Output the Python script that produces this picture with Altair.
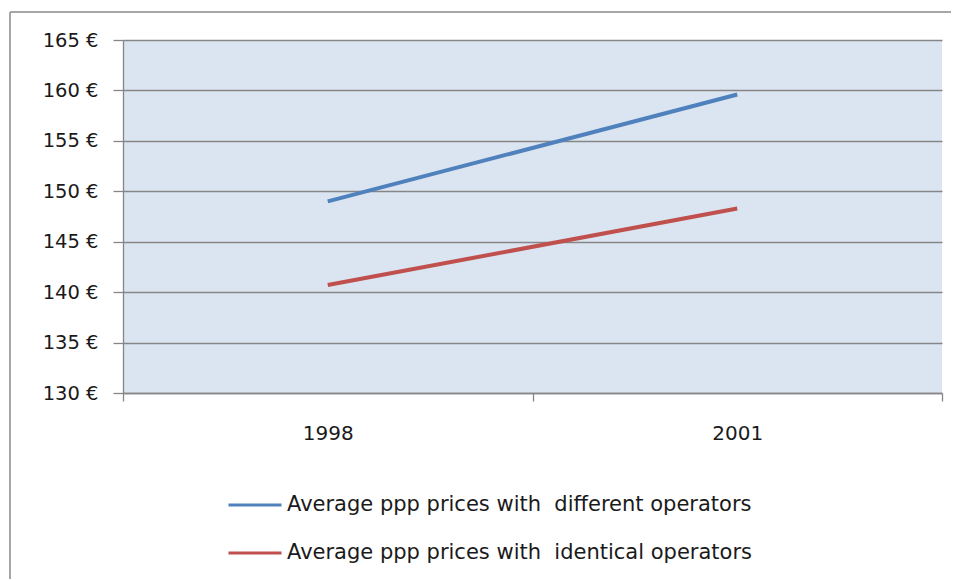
import altair as alt
import pandas as pd

years = ["1998", "2001"]
series_names = [
    "Average ppp prices with\u00a0 different operators",
    "Average ppp prices with\u00a0 identical operators",
]
different_ops = [149.0, 159.6]
identical_ops = [140.7, 148.3]
y_ticks = [130, 135, 140, 145, 150, 155, 160, 165]
colors = ["#4f81bd", "#c0504d"]

rows = []
for i, yr in enumerate(years):
    rows.append({"year": yr, "series": series_names[0], "price": different_ops[i]})
    rows.append({"year": yr, "series": series_names[1], "price": identical_ops[i]})
df = pd.DataFrame(rows)

FONT = "DejaVu Sans"

line = alt.Chart(df).mark_line(strokeWidth=4, clip=False).encode(
    x=alt.X(
        "year:N",
        bandPosition=0.5,
        scale=alt.Scale(type="band", paddingInner=0, paddingOuter=0),
        axis=alt.Axis(
            title=None, labelAngle=0, tickBand="extent", grid=False,
            domainColor="#868686", tickColor="#868686", tickSize=8,
            domainWidth=1.3, tickWidth=1.3,
            labelFontSize=20, labelColor="#1a1a1a", labelPadding=22,
            labelFont=FONT,
        ),
    ),
    y=alt.Y(
        "price:Q",
        scale=alt.Scale(domain=[130, 165], nice=False, zero=False),
        axis=alt.Axis(
            title=None, values=y_ticks, labelExpr="datum.value + ' €'",
            gridColor="#868686", gridWidth=1.3, domainColor="#868686",
            domainWidth=1.3, tickWidth=1.3,
            tickColor="#868686", tickSize=10, labelPadding=15,
            labelFontSize=19.5, labelColor="#1a1a1a", labelFont=FONT,
        ),
    ),
    color=alt.Color(
        "series:N",
        sort=series_names,
        scale=alt.Scale(domain=series_names, range=colors),
        legend=alt.Legend(
            title=None, orient="none", legendX=104, legendY=437,
            direction="vertical", symbolType="stroke", symbolSize=2809,
            symbolStrokeWidth=3, labelFontSize=21, labelFont=FONT,
            labelColor="#1a1a1a", labelOffset=4, rowPadding=10,
            labelLimit=700,
        ),
    ),
)

border = pd.DataFrame({"k": [0]})
top_edge = alt.Chart(border).mark_rule(stroke="#a6a6a6", strokeWidth=2, clip=False).encode(
    x=alt.value(-113), x2=alt.value(900), y=alt.value(-28)
)
left_edge = alt.Chart(border).mark_rule(stroke="#a6a6a6", strokeWidth=2, clip=False).encode(
    x=alt.value(-113), y=alt.value(-28), y2=alt.value(620)
)

chart = alt.layer(top_edge, left_edge, line).properties(
    width=819, height=353,
    padding={"left": 115, "top": 32, "right": 9, "bottom": 186},
    autosize=alt.AutoSizeParams(type="none"),
    background="#ffffff",
).configure_view(fill="#dbe5f1", stroke=None)

chart.save("out.html", embed_options={"renderer": "svg", "actions": False})
